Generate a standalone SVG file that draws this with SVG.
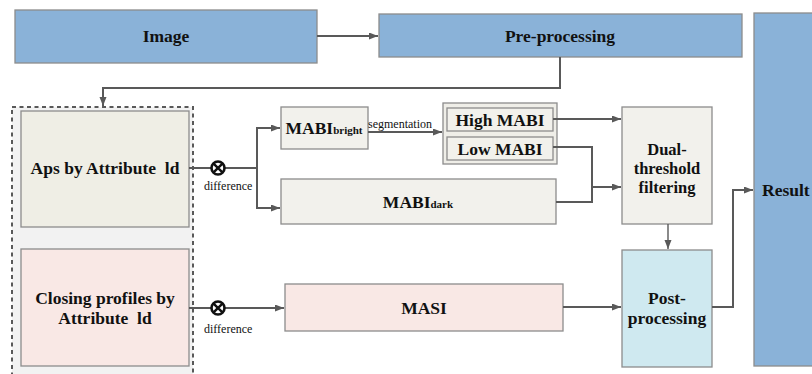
<svg xmlns="http://www.w3.org/2000/svg" width="812" height="374" viewBox="0 0 812 374">
<style>
.box{stroke:#8c8c8c;stroke-width:1.3}
.blue{fill:#8ab2d8}
.beige{fill:#efeee5}
.light{fill:#f2f1ec}
.pink{fill:#f9e8e5}
.cyan{fill:#cfe9f0}
text{font-family:'Liberation Serif','DejaVu Serif',serif}
.t{font-weight:bold;font-size:17.5px;fill:#111;text-anchor:middle;white-space:pre}
.d{font-size:16.5px}
.sub{font-size:11px}
.s{font-size:12px;fill:#111}
.c{fill:none;stroke:#595959;stroke-width:2}
</style>
<defs>
<marker id="ah" markerUnits="userSpaceOnUse" markerWidth="10" markerHeight="8" refX="9" refY="3.5" orient="auto">
<path d="M0,0 L9,3.5 L0,7 z" fill="#595959"/>
</marker>
</defs>
<rect width="812" height="374" fill="#ffffff"/>

<g id="group-dashed">
<rect x="12" y="107" width="181" height="280" fill="#f2f2f2" stroke="#595959" stroke-width="2" stroke-dasharray="4,3.5"/>
</g>

<g id="image">
<rect class="box blue" x="15" y="10" width="302" height="53"/>
<text class="t" x="166" y="42" font-family="Liberation Serif, serif">Image</text>
</g>
<g id="preprocessing">
<rect class="box blue" x="379" y="14" width="363" height="43"/>
<text class="t" x="560" y="42">Pre-processing</text>
</g>
<g id="result">
<rect class="box blue" x="754" y="13" width="70" height="353"/>
<text class="t" x="762" y="196" style="text-anchor:start">Result</text>
</g>
<g id="aps">
<rect class="box beige" x="21" y="111" width="168" height="116"/>
<text class="t" x="105" y="174">Aps by Attribute  ld</text>
</g>
<g id="closing">
<rect class="box pink" x="21" y="249" width="168" height="117"/>
<text class="t" x="105" y="304">Closing profiles by</text>
<text class="t" x="105" y="324">Attribute  ld</text>
</g>
<g id="mabi-bright">
<rect class="box light" x="281" y="107" width="87" height="42"/>
<text class="t" x="324" y="134">MABI<tspan class="sub">bright</tspan></text>
</g>
<g id="mabi-dark">
<rect class="box light" x="281" y="179" width="275" height="45"/>
<text class="t" x="418" y="208">MABI<tspan class="sub">dark</tspan></text>
</g>
<g id="high-low">
<rect class="box" x="443" y="103" width="114" height="61" fill="#efeee8"/>
</g>
<g id="high-mabi">
<rect class="box light" x="447" y="108" width="106" height="23"/>
<text class="t" x="500" y="126">High MABI</text>
</g>
<g id="low-mabi">
<rect class="box light" x="447" y="137" width="106" height="23"/>
<text class="t" x="500" y="155">Low MABI</text>
</g>
<g id="dual">
<rect class="box light" x="622" y="107" width="90" height="117"/>
<text class="t d" x="667" y="155">Dual-</text>
<text class="t d" x="667" y="174">threshold</text>
<text class="t d" x="667" y="193">filtering</text>
</g>
<g id="masi">
<rect class="box pink" x="285" y="284" width="278" height="47"/>
<text class="t" x="424" y="314">MASI</text>
</g>
<g id="post">
<rect class="box cyan" x="622" y="250" width="90" height="117"/>
<text class="t" x="667" y="304">Post-</text>
<text class="t" x="667" y="324">processing</text>
</g>

<g id="connectors">
<path class="c" d="M317,36 H378" marker-end="url(#ah)"/>
<path class="c" d="M560,57 V88 H103 V106" marker-end="url(#ah)"/>
<path class="c" d="M189,168 H257"/>
<path class="c" d="M257,168 V128 H280" marker-end="url(#ah)"/>
<path class="c" d="M257,168 V208 H280" marker-end="url(#ah)"/>
<path class="c" d="M368,132 H442" marker-end="url(#ah)"/>
<path class="c" d="M553,119 H621" marker-end="url(#ah)"/>
<path class="c" d="M553,147 H592 V202 H556"/>
<path class="c" d="M592,187 H621" marker-end="url(#ah)"/>
<path class="c" d="M668,224 V249" style="stroke-width:1.4" marker-end="url(#ah)"/>
<path class="c" d="M189,308 H284" marker-end="url(#ah)"/>
<path class="c" d="M563,307 H621" marker-end="url(#ah)"/>
<path class="c" d="M712,307 H733 V190 H753" marker-end="url(#ah)"/>
</g>

<g id="otimes-1">
<circle cx="218" cy="168" r="6.5" fill="#ffffff" stroke="#111" stroke-width="2.6"/>
<path d="M213.8,163.8 L222.2,172.2 M222.2,163.8 L213.8,172.2" stroke="#111" stroke-width="2.4"/>
<text class="s" x="204" y="190">difference</text>
</g>
<g id="otimes-2">
<circle cx="218" cy="308" r="6.5" fill="#ffffff" stroke="#111" stroke-width="2.6"/>
<path d="M213.8,303.8 L222.2,312.2 M222.2,303.8 L213.8,312.2" stroke="#111" stroke-width="2.4"/>
<text class="s" x="204" y="333">difference</text>
</g>
<text class="s" x="368" y="128">segmentation</text>
</svg>
